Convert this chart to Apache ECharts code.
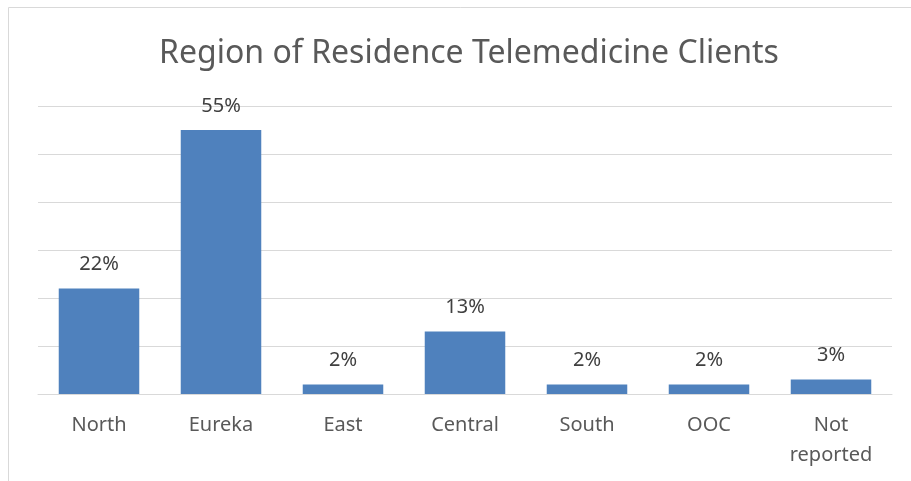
<!DOCTYPE html>
<html>
<head>
<meta charset="utf-8">
<script src="https://cdn.jsdelivr.net/npm/echarts@6/dist/echarts.min.js"></script>
<style>
  html, body { margin: 0; padding: 0; background: #fff; }
  #main { width: 911px; height: 481px; }
</style>
</head>
<body>
<div id="main"></div>
<script>
// 数据
var categories = ['North', 'Eureka', 'East', 'Central', 'South', 'OOC', 'Not\nreported'];
var percents = [22, 55, 2, 13, 2, 2, 3];
var yMax = 60;
var yStep = 10;

var myChart = echarts.init(document.getElementById('main'));
var font = 'Noto Sans, sans-serif';

var option = {
  animation: false,
  title: {
    text: 'Region of Residence Telemedicine Clients',
    left: 464,
    textAlign: 'center',
    top: 33,
    textStyle: { color: '#595959', fontSize: 32, fontWeight: 'normal', fontFamily: font }
  },
  // 外框（只露出左边和上边）
  graphic: [{
    type: 'rect',
    shape: { x: 8.5, y: 7.5, width: 1000, height: 600 },
    style: { fill: 'none', stroke: '#d9d9d9', lineWidth: 1 },
    silent: true
  }],
  grid: { left: 38, right: 19, top: 106, bottom: 87 },
  xAxis: {
    type: 'category',
    data: categories,
    axisTick: { show: false },
    axisLine: { lineStyle: { color: '#d9d9d9', width: 1 } },
    axisLabel: {
      color: '#595959', fontSize: 20, fontFamily: font, margin: 16, lineHeight: 30, interval: 0
    }
  },
  yAxis: {
    type: 'value',
    min: 0,
    max: yMax,
    interval: yStep,
    axisLabel: { show: false },
    axisLine: { show: false },
    axisTick: { show: false },
    splitLine: { lineStyle: { color: '#d9d9d9', width: 1 } }
  },
  series: [{
    type: 'bar',
    data: percents,
    barCategoryGap: '34%',
    itemStyle: { color: '#4f81bd' },
    label: {
      show: true,
      position: 'top',
      distance: 14,
      formatter: '{c}%',
      color: '#404040',
      fontSize: 20,
      fontFamily: font
    }
  }]
};

myChart.setOption(option);
</script>
</body>
</html>
